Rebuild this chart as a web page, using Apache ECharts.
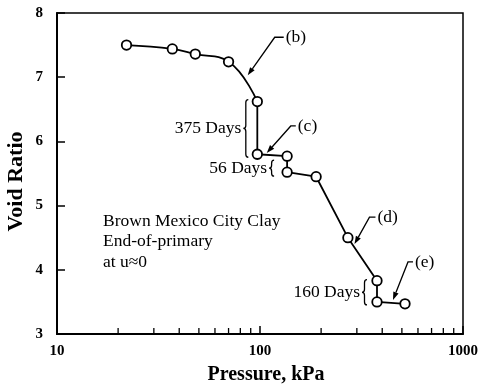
<!DOCTYPE html>
<html>
<head>
<meta charset="utf-8">
<script src="https://cdn.jsdelivr.net/npm/echarts@6/dist/echarts.min.js"></script>
<style>
  html, body { margin: 0; padding: 0; background: #fff; }
  #chart { width: 483px; height: 390px; }
</style>
</head>
<body>
<div id="chart"></div>
<script>
// Consolidation test: void ratio against effective pressure (log scale)
const pressure  = [22, 37, 48, 70, 97, 97, 136, 136, 189, 271, 377, 377, 518];
const voidRatio = [7.50, 7.44, 7.36, 7.24, 6.62, 5.80, 5.77, 5.52, 5.45, 4.50, 3.83, 3.50, 3.47];

// the first stretch up to the 97 kPa point is drawn as a smooth curve
const curveEnd = 4;

// secondary (unlabelled) ticks along the pressure axis
const minorPressureTicks = [20, 30, 40, 50, 60, 70, 80, 90, 200, 300, 400, 500, 600, 700, 800, 900];

// arrowed callouts: label, pointed-at pressure and void ratio
const calloutLabels   = ['(b)', '(c)', '(d)', '(e)'];
const calloutPressure = [87, 108, 292, 452];
const calloutVoid     = [7.03, 5.82, 4.40, 3.53];

// creep periods bracketed between two readings at the same pressure
const braceLabels   = ['375 Days', '56 Days', '160 Days'];
const bracePressure = [97, 136, 377];
const braceUpper    = [6.62, 5.77, 3.83];
const braceLower    = [5.80, 5.52, 3.50];

const noteLines = ['Brown Mexico City Clay', 'End-of-primary', 'at u\u22480'];

const SERIF = "'Liberation Serif', 'DejaVu Serif', serif";

// drawing offsets for the callouts (pixels from the arrow tip)
const calloutLayout = [
  { dx: 27, dy: -38, run: 9 },
  { dx: 24, dy: -27, run: 5 },
  { dx: 15, dy: -27, run: 6 },
  { dx: 15, dy: -38, run: 5 }
];
// drawing offsets for the braces
const braceLayout = [
  { gap: 9,  padTop: 2, padBottom: 3, shift: 0 },
  { gap: 13, padTop: -4, padBottom: 4, shift: 0 },
  { gap: 10, padTop: 1, padBottom: 3, shift: 0 }
];

const points = pressure.map((p, i) => [p, voidRatio[i]]);

function bracePath(xr, y1, y2) {
  const w = 5;
  const xc = xr - w / 2;
  const xl = xr - w;
  const ym = (y1 + y2) / 2;
  const r = Math.min(3, (y2 - y1) / 4);
  return 'M' + xr + ' ' + y1 +
    ' Q' + xc + ' ' + y1 + ' ' + xc + ' ' + (y1 + r) +
    ' L' + xc + ' ' + (ym - r) +
    ' Q' + xc + ' ' + ym + ' ' + xl + ' ' + ym +
    ' Q' + xc + ' ' + ym + ' ' + xc + ' ' + (ym + r) +
    ' L' + xc + ' ' + (y2 - r) +
    ' Q' + xc + ' ' + y2 + ' ' + xr + ' ' + y2;
}

const chart = echarts.init(document.getElementById('chart'), null, { renderer: 'canvas' });

chart.setOption({
  animation: false,
  backgroundColor: '#fff',
  grid: {
    left: 57, right: 20, top: 13, bottom: 56,
    show: true, borderColor: '#000', borderWidth: 1.5,
    outerBoundsMode: 'none'
  },
  xAxis: {
    type: 'log', logBase: 10, min: 10, max: 1000,
    name: 'Pressure, kPa', nameLocation: 'middle', nameGap: 31, nameMoveOverlap: false,
    nameTextStyle: {
      fontFamily: SERIF, fontWeight: 'bold', fontSize: 20, color: '#000',
      padding: [0, 0, 0, 12]
    },
    axisLine: { show: true, lineStyle: { color: '#000', width: 2 } },
    axisTick: { show: true, inside: true, length: 8, lineStyle: { color: '#000', width: 1.5 } },
    axisLabel: {
      fontFamily: SERIF, fontWeight: 'bold', fontSize: 15, color: '#000', margin: 10,
      formatter: v => String(Math.round(v))
    },
    splitLine: { show: false },
    minorTick: { show: false }
  },
  yAxis: {
    type: 'value', min: 3, max: 8, interval: 1,
    name: 'Void Ratio', nameLocation: 'middle', nameGap: 30, nameRotate: 90, nameMoveOverlap: false,
    nameTextStyle: {
      fontFamily: SERIF, fontWeight: 'bold', fontSize: 22, color: '#000',
      padding: [0, 16, 0, 0]
    },
    axisLine: { show: true, lineStyle: { color: '#000', width: 2 } },
    axisTick: { show: true, inside: true, length: 8, lineStyle: { color: '#000', width: 1.5 } },
    axisLabel: { fontFamily: SERIF, fontWeight: 'bold', fontSize: 15, color: '#000', margin: 14 },
    splitLine: { show: false }
  },
  graphic: [{
    type: 'text', left: 103, top: 211, z: 10,
    style: {
      text: noteLines.join('\n'), font: '17.5px ' + SERIF,
      fill: '#000', lineHeight: 20.5
    }
  }],
  series: [
    {
      // pressure-axis minor ticks
      type: 'custom', silent: true, clip: false,
      data: minorPressureTicks.map(p => [p, 3]),
      encode: { x: 0, y: 1 },
      renderItem: function (params, api) {
        const pt = api.coord([api.value(0), api.value(1)]);
        return {
          type: 'line',
          shape: { x1: pt[0], y1: pt[1], x2: pt[0], y2: pt[1] - 6 },
          style: { stroke: '#000', lineWidth: 1.3 }
        };
      }
    },
    {
      type: 'line', data: points.slice(0, curveEnd + 1),
      smooth: 0.45, showSymbol: false, silent: true,
      lineStyle: { color: '#000', width: 1.8 }
    },
    {
      type: 'line', data: points.slice(curveEnd),
      showSymbol: false, silent: true,
      lineStyle: { color: '#000', width: 1.8 }
    },
    {
      type: 'scatter', data: points, symbol: 'circle', symbolSize: 9.5,
      silent: true, z: 5,
      itemStyle: { color: '#fff', opacity: 1, borderColor: '#000', borderWidth: 1.8 }
    },
    {
      // arrowed callouts
      type: 'custom', silent: true, clip: false, z: 6,
      data: calloutLabels.map((t, i) => [calloutPressure[i], calloutVoid[i], i]),
      encode: { x: 0, y: 1 },
      renderItem: function (params, api) {
        const i = api.value(2);
        const lay = calloutLayout[i];
        const tip = api.coord([api.value(0), api.value(1)]);
        const knee = [tip[0] + lay.dx, tip[1] + lay.dy];
        const end = [knee[0] + lay.run, knee[1]];
        const len = Math.hypot(lay.dx, lay.dy);
        const ux = lay.dx / len, uy = lay.dy / len;
        const headLen = 8, headHalf = 2.8;
        const bx = tip[0] + ux * headLen, by = tip[1] + uy * headLen;
        return {
          type: 'group',
          children: [
            {
              type: 'polyline',
              shape: { points: [[bx, by], knee, end] },
              style: { stroke: '#000', lineWidth: 1.3, fill: null }
            },
            {
              type: 'polygon',
              shape: { points: [tip, [bx - uy * headHalf, by + ux * headHalf], [bx + uy * headHalf, by - ux * headHalf]] },
              style: { fill: '#000' }
            },
            {
              type: 'text',
              style: {
                x: end[0] + 2, y: knee[1], text: calloutLabels[i],
                font: '17.5px ' + SERIF, fill: '#000',
                align: 'left', verticalAlign: 'middle'
              }
            }
          ]
        };
      }
    },
    {
      // braces marking the creep periods
      type: 'custom', silent: true, clip: false, z: 6,
      data: braceLabels.map((t, i) => [bracePressure[i], braceUpper[i], braceLower[i], i]),
      encode: { x: 0, y: [1, 2] },
      renderItem: function (params, api) {
        const i = api.value(3);
        const lay = braceLayout[i];
        const top = api.coord([api.value(0), api.value(1)]);
        const bot = api.coord([api.value(0), api.value(2)]);
        const xr = top[0] - lay.gap;
        const y1 = top[1] - lay.padTop + lay.shift;
        const y2 = bot[1] + lay.padBottom + lay.shift;
        return {
          type: 'group',
          children: [
            {
              type: 'path',
              shape: { pathData: bracePath(xr, y1, y2) },
              style: { stroke: '#000', lineWidth: 1.3, fill: null }
            },
            {
              type: 'text',
              style: {
                x: xr - 7, y: (y1 + y2) / 2, text: braceLabels[i],
                font: '17.5px ' + SERIF, fill: '#000',
                align: 'right', verticalAlign: 'middle'
              }
            }
          ]
        };
      }
    }
  ]
});
</script>
</body>
</html>
